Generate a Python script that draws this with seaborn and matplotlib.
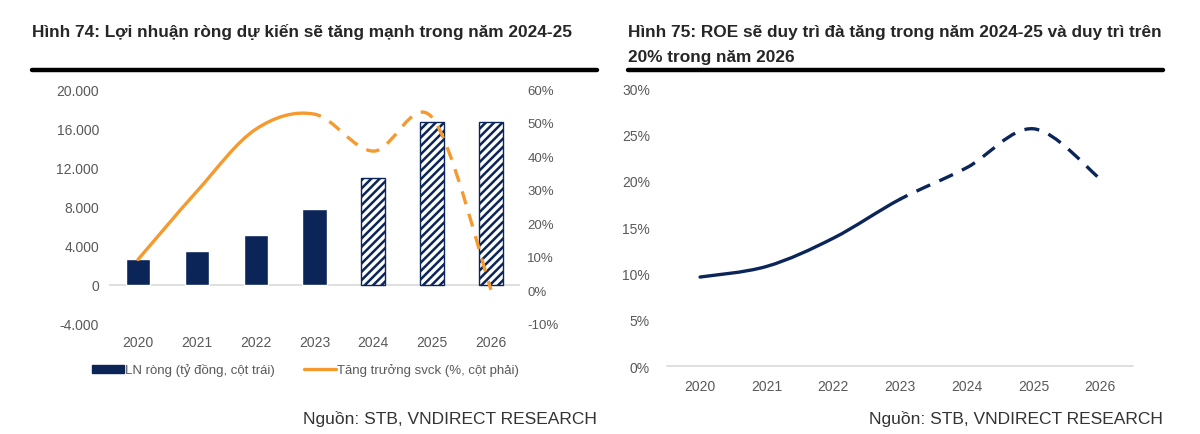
import matplotlib
matplotlib.use("Agg")
import matplotlib.pyplot as plt
import seaborn as sns
from matplotlib.path import Path
from matplotlib.patches import PathPatch, Patch
from matplotlib.lines import Line2D
from matplotlib.ticker import FuncFormatter

# Data
years = ["2020", "2021", "2022", "2023", "2024", "2025", "2026"]
net_profit = [2650, 3450, 5100, 7750, 10950, 16670, 16670]      # ty dong
profit_growth = [9.2, 29.5, 48.0, 52.5, 41.5, 51.5, 0.2]       # %
roe = [9.6, 10.75, 13.8, 18.0, 21.4, 25.6, 20.2]              # %
forecast_start = 4  # 2024 onwards is forecast

left_title = "Hình 74: Lợi nhuận ròng dự kiến sẽ tăng mạnh trong năm 2024-25"
right_title_1 = "Hình 75: ROE sẽ duy trì đà tăng trong năm 2024-25 và duy trì trên"
right_title_2 = "20% trong năm 2026"
source = "Nguồn: STB, VNDIRECT RESEARCH"
legend_labels = ["LN ròng (tỷ đồng, cột trái)", "Tăng trưởng svck (%, cột phải)"]

navy = "#0B2559"
orange = "#F59A2F"
grey_text = "#595959"
axis_grey = "#D9D9D9"

sns.set_theme(style="white")
plt.rcParams["font.family"] = ["Liberation Sans", "DejaVu Sans"]
plt.rcParams["hatch.linewidth"] = 1.8


def smooth_path(xs, ys, i0, i1):
    # Excel-style smoothed line: cubic bezier through the data points
    n = len(xs)
    verts = [(xs[i0], ys[i0])]
    codes = [Path.MOVETO]
    for i in range(i0, i1):
        a = max(i - 1, 0)
        b = min(i + 2, n - 1)
        c1 = (xs[i] + (xs[i + 1] - xs[a]) / 6, ys[i] + (ys[i + 1] - ys[a]) / 6)
        c2 = (xs[i + 1] - (xs[b] - xs[i]) / 6, ys[i + 1] - (ys[b] - ys[i]) / 6)
        verts += [c1, c2, (xs[i + 1], ys[i + 1])]
        codes += [Path.CURVE4] * 3
    return Path(verts, codes)


def add_smooth_line(ax, ys, color, lw, dashes):
    xs = list(range(len(ys)))
    split = forecast_start - 1
    solid = PathPatch(smooth_path(xs, ys, 0, split), fill=False, edgecolor=color,
                      lw=lw, capstyle="round", joinstyle="round")
    dashed = PathPatch(smooth_path(xs, ys, split, len(ys) - 1), fill=False,
                       edgecolor=color, lw=lw, linestyle=(2, dashes), capstyle="butt")
    ax.add_patch(solid)
    ax.add_patch(dashed)


fig = plt.figure(figsize=(12, 4.35), dpi=100)

# ---------- left chart ----------
ax = fig.add_axes([0.0905, 0.2529, 0.3432, 0.5402])
sns.barplot(x=years, y=net_profit, color=navy, saturation=1, width=0.41, ax=ax)
for i, bar in enumerate(ax.patches):
    if i >= forecast_start:
        bar.set_facecolor("white")
        bar.set_edgecolor(navy)
        bar.set_hatch("////")
        bar.set_linewidth(1.0)
ax.set_xlim(-0.5, 6.5)
ax.set_ylim(-4000, 20000)
ax.set_yticks(range(-4000, 20001, 4000))
ax.yaxis.set_major_formatter(FuncFormatter(lambda v, p: f"{v:,.0f}".replace(",", ".")))
ax.axhline(0, color=axis_grey, lw=1.2, zorder=0)
ax.set_xlabel("")
ax.set_ylabel("")
ax.tick_params(axis="both", length=0, labelsize=10, labelcolor=grey_text)
ax.tick_params(axis="x", pad=8)
ax.tick_params(axis="y", pad=7)
sns.despine(ax=ax, left=True, bottom=True)

ax2 = ax.twinx()
ax2.set_ylim(-10, 60)
ax2.set_yticks(range(-10, 61, 10))
ax2.yaxis.set_major_formatter(FuncFormatter(lambda v, p: f"{v:.0f}%"))
ax2.tick_params(axis="y", length=0, labelsize=9.5, labelcolor=grey_text, pad=5)
for s in ax2.spines.values():
    s.set_visible(False)
add_smooth_line(ax2, profit_growth, orange, 2.4, (4, 3))

handles = [Patch(facecolor=navy, edgecolor=navy),
           Line2D([0], [0], color=orange, lw=2.4)]
fig.legend(handles, legend_labels, loc="center left", bbox_to_anchor=(0.067, 1 - 371 / 435),
           ncol=2, frameon=False, fontsize=9.5, labelcolor=grey_text,
           handlelength=2.4, handleheight=0.5, handletextpad=0.1, columnspacing=2.2)

# ---------- right chart ----------
bx = fig.add_axes([0.5556, 0.1563, 0.3889, 0.6391])
bx.set_xlim(-0.5, 6.5)
bx.set_ylim(0, 30)
bx.set_xticks(range(len(years)))
bx.set_xticklabels(years)
bx.set_yticks(range(0, 31, 5))
bx.yaxis.set_major_formatter(FuncFormatter(lambda v, p: f"{v:.0f}%"))
bx.axhline(0, color=axis_grey, lw=1.2, clip_on=False)
bx.tick_params(axis="both", length=0, labelsize=10, labelcolor=grey_text)
bx.tick_params(axis="x", pad=9)
bx.tick_params(axis="y", pad=12)
sns.despine(ax=bx, left=True, bottom=True)
add_smooth_line(bx, roe, navy, 2.4, (4.5, 3))

# ---------- titles, rules, source ----------
fig.text(32 / 1200, 1 - 37 / 435, left_title, fontsize=12.4, fontweight="bold",
         color="#262626", va="baseline", ha="left")
fig.text(628 / 1200, 1 - 37 / 435, right_title_1, fontsize=12.4, fontweight="bold",
         color="#262626", va="baseline", ha="left")
fig.text(628 / 1200, 1 - 62 / 435, right_title_2, fontsize=12.4, fontweight="bold",
         color="#262626", va="baseline", ha="left")
for x0, x1 in [(32, 597), (628, 1163)]:
    fig.add_artist(Line2D([x0 / 1200, x1 / 1200], [1 - 71 / 435] * 2, color="black",
                          lw=3.2, transform=fig.transFigure))
fig.text(597 / 1200, 1 - 419 / 435, source, fontsize=12.5, color="#333333",
         va="center", ha="right")
fig.text(1163 / 1200, 1 - 419 / 435, source, fontsize=12.5, color="#333333",
         va="center", ha="right")

fig.savefig("out.png", dpi=100, facecolor="white")
